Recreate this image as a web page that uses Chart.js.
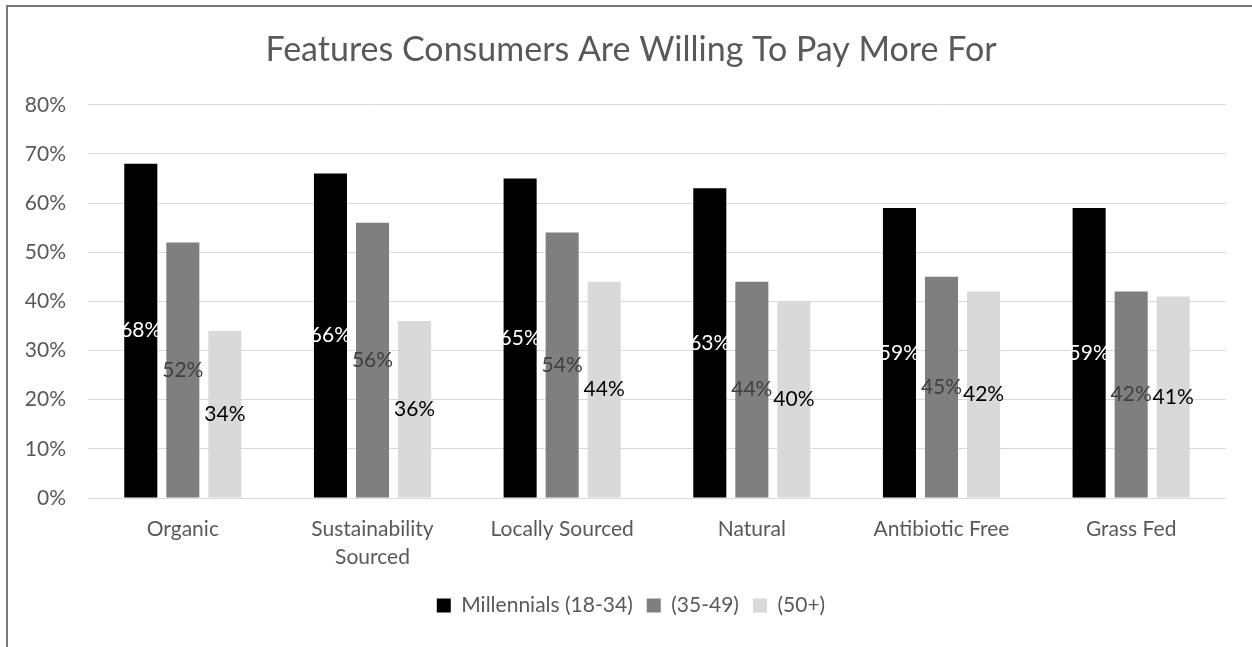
<!DOCTYPE html>
<html>
<head>
<meta charset="utf-8">
<script src="https://cdn.jsdelivr.net/npm/chart.js@4.4.0/dist/chart.umd.min.js"></script>
<style>
  html, body { margin: 0; padding: 0; background: #ffffff; }
  #wrap { position: relative; width: 1252px; height: 647px; }
  #frame { position: absolute; left: 6px; top: 5px; right: 0; bottom: 0;
           border-left: 2px solid #7a7a7a; border-top: 2px solid #7a7a7a; pointer-events: none; }
</style>
</head>
<body>
<div id="wrap">
  <canvas id="c" width="1252" height="647"></canvas>
  <div id="frame"></div>
</div>
<script>
const categories = ['Organic', ['Sustainability', 'Sourced'], 'Locally Sourced', 'Natural', 'Antibiotic Free', 'Grass Fed'];
const seriesNames = ['Millennials (18-34)', '(35-49)', '(50+)'];
const millennials = [68, 66, 65, 63, 59, 59];
const age35to49 = [52, 56, 54, 44, 45, 42];
const age50plus = [34, 36, 44, 40, 42, 41];
const yTicks = [0, 10, 20, 30, 40, 50, 60, 70, 80];

const barColors = ['#000000', '#7f7f7f', '#d9d9d9'];
const labelColors = ['#ffffff', '#404040', '#000000'];
const FONT = 'Lato, "Open Sans", sans-serif';

const centerLabels = {
  id: 'centerLabels',
  afterDatasetsDraw(chart) {
    const ctx = chart.ctx;
    ctx.save();
    ctx.font = '21px ' + FONT;
    ctx.textAlign = 'center';
    ctx.textBaseline = 'middle';
    chart.data.datasets.forEach((ds, di) => {
      const meta = chart.getDatasetMeta(di);
      ctx.fillStyle = labelColors[di];
      meta.data.forEach((el, i) => {
        const yc = (el.y + el.base) / 2;
        ctx.fillText(ds.data[i] + '%', el.x, yc);
      });
    });
    ctx.restore();
  }
};

new Chart(document.getElementById('c'), {
  type: 'bar',
  data: {
    labels: categories,
    datasets: [
      { label: seriesNames[0], data: millennials, backgroundColor: barColors[0] },
      { label: seriesNames[1], data: age35to49, backgroundColor: barColors[1] },
      { label: seriesNames[2], data: age50plus, backgroundColor: barColors[2] }
    ]
  },
  options: {
    responsive: false,
    animation: false,
    devicePixelRatio: 1,
    datasets: { bar: { barPercentage: 0.786, categoryPercentage: 0.665 } },
    layout: { padding: { top: 22, left: 18, right: 8, bottom: 21 } },
    plugins: {
      title: {
        display: true,
        text: 'Features Consumers Are Willing To Pay More For',
        color: '#595959',
        font: { family: FONT, size: 34, weight: 'normal' },
        padding: { top: 8, bottom: 34 }
      },
      legend: {
        position: 'bottom',
        labels: {
          color: '#595959',
          font: { family: FONT, size: 21 },
          boxWidth: 14, boxHeight: 14,
          padding: 14
        }
      },
      tooltip: { enabled: false }
    },
    scales: {
      x: {
        afterFit(scale) { scale.height = 83; },
        grid: { display: false, drawTicks: false },
        border: { display: false },
        ticks: { color: '#595959', font: { family: FONT, size: 21, lineHeight: 1.3 }, padding: 18, maxRotation: 0, autoSkip: false }
      },
      y: {
        min: 0, max: 80,
        afterBuildTicks(scale) { scale.ticks = yTicks.map(v => ({ value: v })); },
        afterFit(scale) { scale.width = 70; },
        grid: { color: '#d9d9d9', lineWidth: 1, drawTicks: false },
        border: { display: false },
        ticks: { color: '#595959', font: { family: FONT, size: 21 }, padding: 22, callback: v => v + '%' }
      },
      yRight: {
        position: 'right',
        min: 0, max: 80,
        afterFit(scale) { scale.width = 18; },
        grid: { display: false, drawTicks: false },
        border: { display: false },
        ticks: { display: false }
      }
    }
  },
  plugins: [centerLabels]
});
</script>
</body>
</html>
